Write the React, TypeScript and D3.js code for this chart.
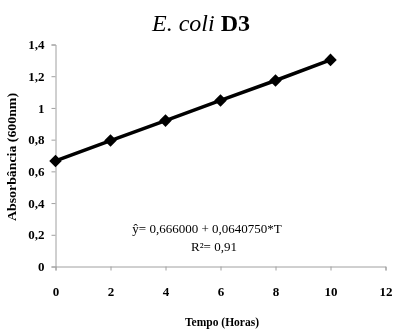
import * as d3 from "d3";
import React, { useEffect, useRef } from "react";

// valeurs
const tempo = [0, 2, 4, 6, 8, 10];
const absorbancia = [0.666, 0.794, 0.92, 1.047, 1.173, 1.303];
const xTicks = [0, 2, 4, 6, 8, 10, 12];
const yTicks = [0, 0.2, 0.4, 0.6, 0.8, 1, 1.2, 1.4];

const FONT = "Liberation Serif";
const fmt = (v: number) => String(+v.toFixed(1)).replace(".", ",");

const App = () => {
  const svgRef = useRef<SVGSVGElement>(null);

  useEffect(() => {
    const width = 394;
    const height = 330;
    const svg = d3.select(svgRef.current).attr("width", width).attr("height", height)
      .attr("font-family", FONT);
    svg.selectAll("*").remove();

    const x = d3.scaleLinear().domain([0, 12]).range([55.5, 385.5]);
    const y = d3.scaleLinear().domain([0, 1.4]).range([266.5, 44.5]);

    // titre
    const title = svg.append("text").attr("x", 201).attr("y", 31).attr("text-anchor", "middle")
      .attr("font-size", 24).attr("font-family", FONT);
    title.append("tspan").attr("font-style", "italic").text("E. coli ");
    title.append("tspan").attr("font-weight", "bold").text("D3");

    // axe y
    const yAxis = svg.append("g").attr("transform", `translate(${x(0)},0)`)
      .call(d3.axisLeft(y).tickValues(yTicks).tickFormat((d) => fmt(d as number)).tickSize(4).tickPadding(7));
    yAxis.attr("font-family", FONT);
    yAxis.select(".domain").attr("stroke", "#a0a0a0");
    yAxis.selectAll(".tick line").attr("stroke", "#a0a0a0");
    yAxis.selectAll(".tick text").attr("font-size", 13).attr("font-weight", "bold").attr("fill", "#000");

    // axe x
    const xAxis = svg.append("g").attr("transform", `translate(0,${y(0)})`)
      .call(d3.axisBottom(x).tickValues(xTicks).tickFormat((d) => String(d)).tickSize(4).tickPadding(16));
    xAxis.attr("font-family", FONT);
    xAxis.select(".domain").attr("stroke", "#a0a0a0");
    xAxis.selectAll(".tick line").attr("stroke", "#a0a0a0");
    xAxis.selectAll(".tick text").attr("font-size", 13).attr("font-weight", "bold").attr("fill", "#000");

    // titres des axes
    svg.append("text").attr("transform", `translate(16,157) rotate(-90)`).attr("text-anchor", "middle")
      .attr("font-size", 13).attr("font-weight", "bold")
      .attr("textLength", 128).attr("lengthAdjust", "spacingAndGlyphs").text("Absorbância (600nm)");
    svg.append("text").attr("x", 222).attr("y", 326).attr("text-anchor", "middle")
      .attr("font-size", 11.5).attr("font-weight", "bold").text("Tempo (Horas)");

    // ligne
    const pts = tempo.map((t, i) => [t, absorbancia[i]] as [number, number]);
    const line = d3.line<[number, number]>().x((d) => x(d[0])).y((d) => y(d[1]));
    svg.append("path").datum(pts).attr("fill", "none").attr("stroke", "#000").attr("stroke-width", 3.5).attr("d", line);

    svg.selectAll(".pt").data(pts).enter().append("path")
      .attr("transform", (d) => `translate(${x(d[0])},${y(d[1])})`)
      .attr("d", d3.symbol(d3.symbolDiamond2, 100)() as string)
      .attr("fill", "#000");

    // equation
    svg.append("text").attr("x", 207).attr("y", 233).attr("text-anchor", "middle").attr("font-size", 13)
      .text("ŷ= 0,666000 + 0,0640750*T");
    svg.append("text").attr("x", 214).attr("y", 251).attr("text-anchor", "middle").attr("font-size", 13)
      .text("R²= 0,91");
  }, []);

  return (
    <div style={{ position: "fixed", top: 0, left: 0 }}>
      <svg ref={svgRef} style={{ display: "block" }}></svg>
    </div>
  );
};

export default App;
